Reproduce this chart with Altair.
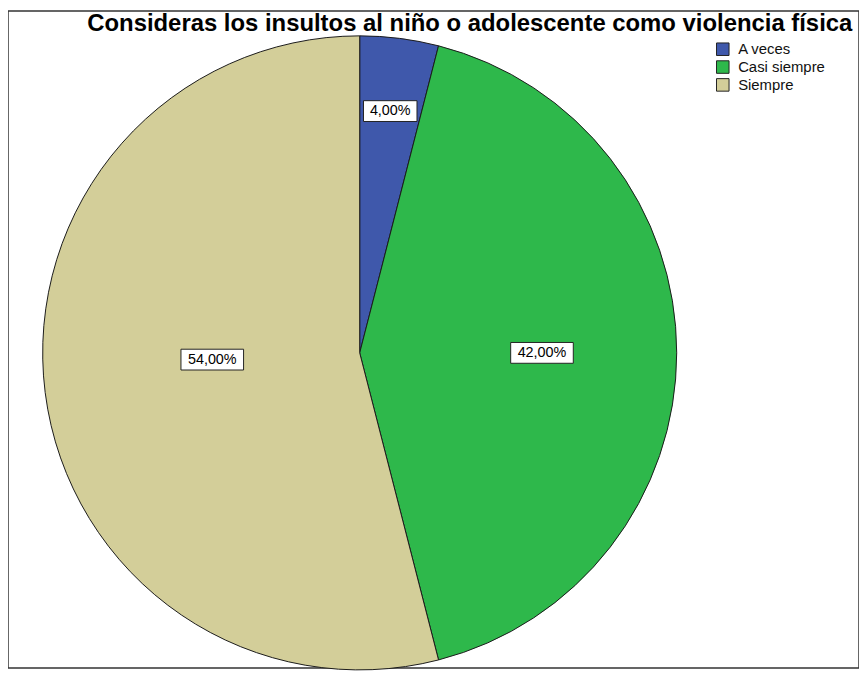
import altair as alt
import pandas as pd

categories = ["A veces", "Casi siempre", "Siempre"]
percentages = [4.0, 42.0, 54.0]
labels = ["4,00%", "42,00%", "54,00%"]
colors = ["#3F58AB", "#2EB84B", "#D3CE99"]
title_text = "Consideras los insultos al niño o adolescente como violencia física"

df = pd.DataFrame({
    "categoria": categories,
    "porcentaje": percentages,
    "etiqueta": labels,
    "orden": list(range(len(categories))),
})

CX, CY, R = 355, 345, 320
FONT = "Liberation Sans"

color = alt.Color(
    "categoria:N",
    scale=alt.Scale(domain=categories, range=colors),
    legend=alt.Legend(
        title=None, orient="none", legendX=714, legendY=31,
        symbolType="square", symbolSize=160, symbolStrokeColor="#222",
        symbolStrokeWidth=1, labelFontSize=15, labelFont=FONT,
        labelColor="#111", rowPadding=1, labelOffset=8, padding=0,
    ),
)

pie = alt.Chart(df).mark_arc(stroke="#1a1a1a", strokeWidth=1, radius=R).encode(
    theta=alt.Theta("porcentaje:Q", stack=True),
    order=alt.Order("orden:Q"),
    color=color,
    x=alt.value(CX),
    y=alt.value(CY),
)

lab = (
    alt.Chart(df)
    .transform_joinaggregate(total="sum(porcentaje)")
    .transform_window(cum="sum(porcentaje)", sort=[alt.SortField("orden")], frame=[None, 0])
    .transform_calculate(
        mid="(datum.cum - datum.porcentaje / 2) / datum.total * 2 * PI",
        lr="datum.orden == 0 ? 246 : (datum.orden == 1 ? 184 : 150)",
    )
    .transform_calculate(
        lx=f"{CX} + datum.lr * sin(datum.mid)",
        ly=f"{CY} - datum.lr * cos(datum.mid) - (datum.orden == 2 ? 12 : 0)",
        hw="length(datum.etiqueta) * 4.6 + 4",
    )
    .transform_calculate(
        x1="datum.lx - datum.hw", x2="datum.lx + datum.hw",
        y1="datum.ly - 10.5", y2="datum.ly + 10.5",
    )
)

boxes = lab.mark_rect(fill="white", stroke="#222", strokeWidth=1).encode(
    x=alt.X("x1:Q", scale=None, axis=None),
    x2="x2:Q",
    y=alt.Y("y1:Q", scale=None, axis=None),
    y2="y2:Q",
)

texts = lab.mark_text(font=FONT, fontSize=14.5, color="black").encode(
    x=alt.X("lx:Q", scale=None, axis=None),
    y=alt.Y("ly:Q", scale=None, axis=None),
    text="etiqueta:N",
)

title = alt.Chart(pd.DataFrame({"t": [title_text]})).mark_text(
    font=FONT, fontSize=24.1, fontWeight="bold", align="left", baseline="alphabetic", color="black"
).encode(x=alt.value(80), y=alt.value(20), text="t:N")

chart = (
    alt.layer(pie, boxes, texts, title)
    .properties(width=859, height=663, padding=0, autosize=alt.AutoSizeParams(type="none"))
    .configure_view(stroke="#333", strokeWidth=1.5)
)

chart.save("out.html", embed_options={"renderer": "svg", "actions": False})
